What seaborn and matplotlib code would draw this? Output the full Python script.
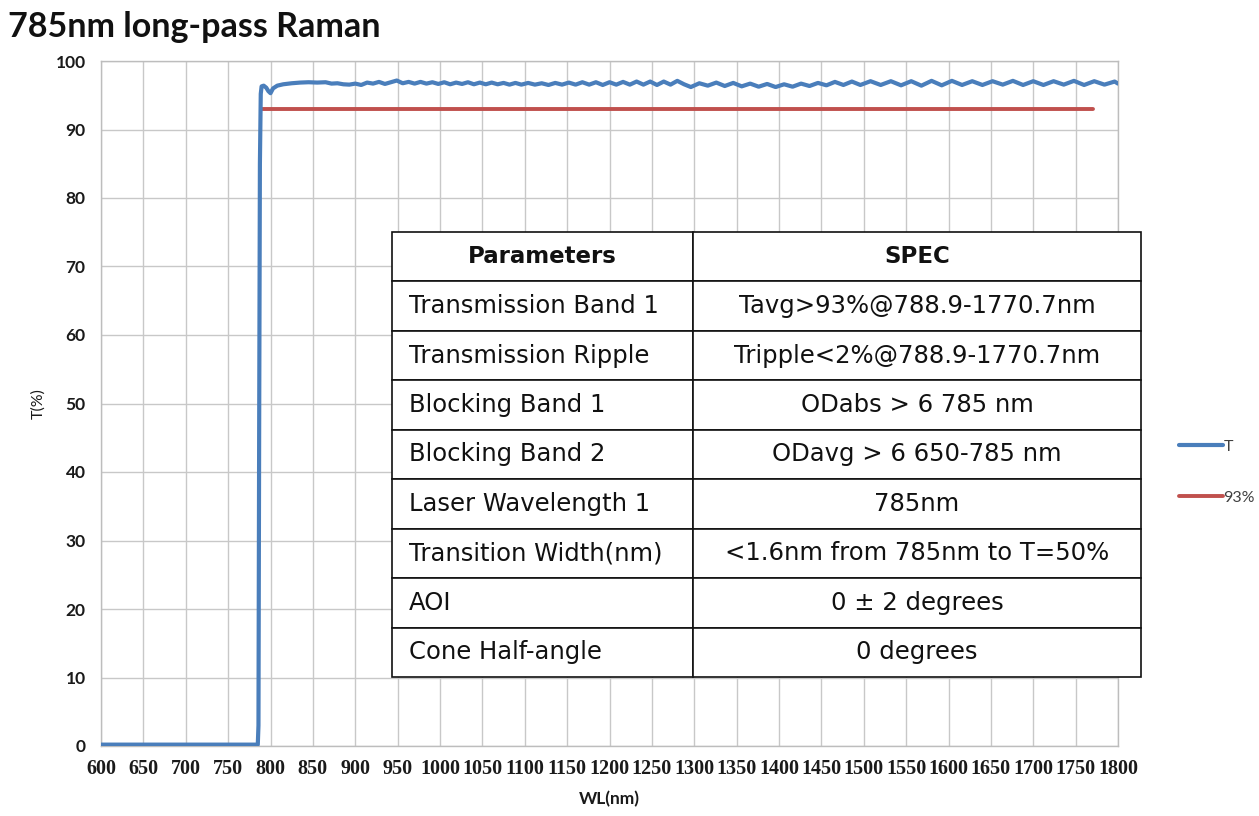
import matplotlib
matplotlib.use("Agg")
import matplotlib.pyplot as plt
import seaborn as sns
import pandas as pd

# ---------------- data ----------------
title = "785nm long-pass Raman"

wl_T = [600, 785, 785.8, 786.6, 787.5, 788.5, 789.5, 792, 795, 797.5, 800, 803, 808, 815, 825, 835,
        845, 855, 865, 872, 879, 886, 893, 900,
        907, 914, 921, 928, 935, 942, 949, 956, 963, 970, 977, 984, 991, 998, 1005, 1012, 1019, 1026,
        1033, 1040, 1047, 1054, 1061, 1068, 1075, 1082, 1089, 1096,
        1104, 1112, 1120, 1128, 1136, 1144, 1152, 1160, 1168, 1176, 1184, 1192, 1200, 1208, 1216, 1224,
        1232, 1240, 1248, 1256, 1264, 1272, 1280, 1288, 1296,
        1306, 1316, 1326, 1336, 1346, 1356, 1366, 1376, 1386, 1396, 1406, 1416, 1426, 1436, 1446, 1456,
        1466, 1476, 1486, 1496,
        1508, 1520, 1532, 1544, 1556, 1568, 1580, 1592, 1604, 1616, 1628, 1640, 1652, 1664, 1676, 1688,
        1700, 1712, 1724, 1736, 1748, 1760, 1772, 1784, 1796, 1800]
T_vals = [0.2, 0.2, 3, 45, 85, 95.2, 96.3, 96.4, 96.1, 95.6, 95.3, 96.0, 96.4, 96.6, 96.75, 96.85,
          96.9, 96.85, 96.9, 96.7, 96.75, 96.6, 96.55, 96.7,
          96.5, 96.85, 96.7, 96.95, 96.65, 96.9, 97.15, 96.75, 96.95, 96.7, 96.95, 96.7, 96.9, 96.65,
          96.9, 96.6, 96.85, 96.65, 96.9, 96.6, 96.85, 96.6, 96.85, 96.6, 96.8, 96.55, 96.8, 96.55,
          96.8, 96.55, 96.75, 96.5, 96.8, 96.55, 96.85, 96.55, 96.9, 96.55, 96.9, 96.5, 96.9, 96.55,
          96.95, 96.55, 97.0, 96.55, 97.0, 96.5, 97.0, 96.55, 97.1, 96.6, 96.2,
          96.75, 96.4, 96.85, 96.35, 96.8, 96.3, 96.7, 96.25, 96.65, 96.2, 96.6, 96.25, 96.7, 96.35,
          96.8, 96.45, 96.95, 96.5, 97.0, 96.5,
          97.05, 96.5, 97.05, 96.45, 97.05, 96.4, 97.1, 96.45, 97.1, 96.5, 97.05, 96.5, 97.05, 96.55,
          97.1, 96.5, 97.05, 96.5, 97.05, 96.55, 97.1, 96.5, 97.05, 96.55, 97.0, 96.7]

wl_spec = [788.9, 1770.7]
spec_vals = [93, 93]

x_ticks = list(range(600, 1801, 50))
y_ticks = list(range(0, 101, 10))

table_header = ["Parameters", "SPEC"]
table_params = ["Transmission Band 1", "Transmission Ripple", "Blocking Band 1", "Blocking Band 2",
                "Laser Wavelength 1", "Transition Width(nm)", "AOI", "Cone Half-angle"]
table_specs = ["Tavg>93%@788.9-1770.7nm", "Tripple<2%@788.9-1770.7nm", "ODabs > 6 785 nm",
               "ODavg > 6 650-785 nm", "785nm", "<1.6nm from 785nm to T=50%", "0 ± 2 degrees",
               "0 degrees"]

# ---------------- plot ----------------
sns.set_style("white")
plt.rcParams['font.family'] = ['DejaVu Sans']

fig = plt.figure(figsize=(12.59, 8.16), dpi=100)
ax = fig.add_axes([101/1259, 1-746/816, (1118-101)/1259, (746-61)/816])

df_T = pd.DataFrame({"WL": wl_T, "T": T_vals, "series": "T"})
df_S = pd.DataFrame({"WL": wl_spec, "T": spec_vals, "series": "93%"})

sns.lineplot(data=df_T, x="WL", y="T", ax=ax, color="#4a7ebb", lw=3.0, sort=False,
             estimator=None, label="T", zorder=4)
sns.lineplot(data=df_S, x="WL", y="T", ax=ax, color="#c0504d", lw=2.8, sort=False,
             estimator=None, label="93%", zorder=3)

ax.set_xlim(600, 1800)
ax.set_ylim(0, 100)
ax.set_xticks(x_ticks)
ax.set_yticks(y_ticks)
ax.grid(True, color="#c8c8c8", lw=1.0, zorder=0)
ax.set_axisbelow(True)
for s in ax.spines.values():
    s.set_color("#bdbdbd")
    s.set_linewidth(1.0)

ax.tick_params(axis="both", which="both", direction="out", color="#a0a0a0", length=5, width=1)
ax.set_xticklabels([str(v) for v in x_ticks], fontfamily="Liberation Serif", fontweight="bold",
                   fontsize=14.5, color="#1a1a1a")
ax.set_yticklabels([str(v) for v in y_ticks], fontfamily="Lato", fontweight="bold",
                   fontsize=12.5, color="#1a1a1a")
ax.tick_params(axis="x", pad=4)
ax.tick_params(axis="y", pad=6)

ax.set_xlabel("WL(nm)", fontfamily="Lato", fontweight="bold", fontsize=12.5, color="#1a1a1a",
              labelpad=9)
ax.set_ylabel("T(%)", fontfamily="Lato", fontsize=11.5, color="#1a1a1a", labelpad=7)

# legend outside right
ax.get_legend().remove()
handles, labels = ax.get_legend_handles_labels()
leg = fig.legend(handles, labels, loc="center left", bbox_to_anchor=(1165/1259, 1-472/816),
                 frameon=False, handlelength=2.7, handletextpad=0.05, labelspacing=2.3,
                 prop={"family": "Lato", "size": 11.5})
for t in leg.get_texts():
    t.set_color("#404040")

# title
fig.text(8/1259, 1-27/816, title, fontfamily="Lato", fontweight="bold", fontsize=24.5,
         ha="left", va="center", color="#111111")

# spec table
cell_text = [[p, s] for p, s in zip(table_params, table_specs)]
x0 = (392-101)/1017
x1 = (1141-101)/1017
y0 = (746-677)/685
y1 = (746-232)/685
tbl = ax.table(cellText=cell_text, colLabels=table_header, cellLoc="center",
               colWidths=[301/749*(x1-x0), 448/749*(x1-x0)],
               bbox=[x0, y0, x1-x0, y1-y0], zorder=10)
tbl.auto_set_font_size(False)
for (r, c), cell in tbl.get_celld().items():
    cell.set_edgecolor("#111111")
    cell.set_linewidth(1.2)
    cell.set_facecolor("white")
    txt = cell.get_text()
    txt.set_fontsize(17.5)
    txt.set_fontfamily("DejaVu Sans")
    txt.set_color("#111111")
    if r == 0:
        txt.set_fontweight("bold")
        txt.set_fontsize(16.5)
    elif c == 0:
        cell._loc = "left"
        cell.PAD = 0.055
        txt.set_ha("left")

fig.savefig("out.png", dpi=100)
